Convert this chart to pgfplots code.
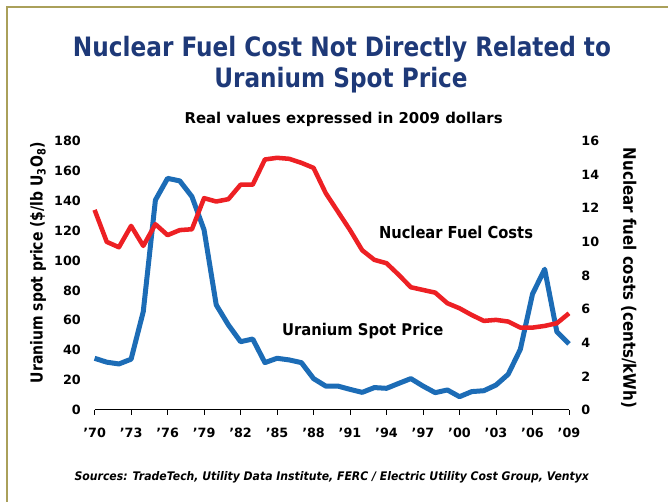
\documentclass[border=0pt]{standalone}
\usepackage{fontspec}
\setmainfont{DejaVu Sans}
\usepackage{pgfplots}
\pgfplotsset{compat=1.18}
\definecolor{titlenavy}{RGB}{30,57,120}
\definecolor{ublue}{RGB}{28,108,182}
\definecolor{fred}{RGB}{237,32,36}
\definecolor{frame}{RGB}{170,160,90}

% values
\pgfplotstableread{
year spot
1970 34.6
1971 32.0
1972 30.8
1973 34.0
1974 65.8
1975 140.5
1976 155.0
1977 153.3
1978 142.8
1979 120.5
1980 70.3
1981 56.9
1982 45.7
1983 47.5
1984 31.7
1985 34.6
1986 33.5
1987 31.7
1988 21.0
1989 16.0
1990 16.0
1991 13.8
1992 11.8
1993 15.0
1994 14.5
1995 17.8
1996 21.0
1997 16.0
1998 11.6
1999 13.4
2000 8.9
2001 12.3
2002 12.9
2003 16.7
2004 23.9
2005 40.6
2006 77.6
2007 94.2
2008 52.4
2009 44.2
}\spottable

\pgfplotstableread{
year fuel
1970 11.9
1971 10.0
1972 9.68
1973 10.95
1974 9.76
1975 11.05
1976 10.4
1977 10.7
1978 10.75
1979 12.6
1980 12.4
1981 12.54
1982 13.4
1983 13.4
1984 14.9
1985 15.0
1986 14.94
1987 14.7
1988 14.4
1989 12.9
1990 11.8
1991 10.7
1992 9.5
1993 8.93
1994 8.73
1995 8.04
1996 7.3
1997 7.14
1998 6.98
1999 6.35
2000 6.05
2001 5.65
2002 5.3
2003 5.36
2004 5.26
2005 4.9
2006 4.9
2007 5.0
2008 5.16
2009 5.75
}\fueltable

\pgfplotsset{
  common/.style={
    at={(70.95pt,69pt)}, anchor=south west,
    scale only axis, width=355.8pt, height=201.75pt,
    xmin=1970, xmax=2009, clip=false,
    ticklabel style={font=\bfseries\fontsize{9.57}{11}\selectfont},
    /pgf/number format/assume math mode=true,
    y axis line style={draw=none},
    ytick style={draw=none},
  },
}

\begin{document}
\begin{tikzpicture}
\useasboundingbox (0,0) rectangle (501pt,376.5pt);

\begin{axis}[common,
  ymin=0, ymax=180, ytick={0,20,...,180},
  axis x line*=bottom, axis y line*=left,
  x axis line style={black, line width=0.75pt},
  xtick={1970,1973,...,2009},
  xticklabels={'70,'73,'76,'79,'82,'85,'88,'91,'94,'97,'00,'03,'06,'09},
  xtick style={black, line width=0.75pt},
  tick align=outside, major tick length=3.5pt,
  xticklabel style={anchor=north, yshift=-6.4pt},
  yticklabel style={anchor=east, xshift=-3.3pt},
]
\addplot[ublue, line width=3.75pt, line join=round] table[x=year, y=spot] {\spottable};
\end{axis}

\begin{axis}[common,
  ymin=0, ymax=16, ytick={0,2,...,16},
  axis y line*=right, hide x axis,
  yticklabel style={anchor=west, xshift=5.8pt},
]
\addplot[fred, line width=3.4pt, line join=round] table[x=year, y=fuel] {\fueltable};
\end{axis}

\begin{scope}[x=0.75pt, y=-0.75pt, yshift=376.5pt]
  \draw[frame, line width=1.5pt] (6.8,505) -- (6.8,6.8) -- (670,6.8);
  \node[anchor=base, inner sep=0, text=titlenavy] at (342,57)
    {\resizebox{403.5pt}{15.2pt}{\bfseries Nuclear Fuel Cost Not Directly Related to}};
  \node[anchor=base, inner sep=0, text=titlenavy] at (341,87.3)
    {\resizebox{190pt}{15.2pt}{\bfseries Uranium Spot Price}};
  \node[anchor=base, inner sep=0] at (343.6,124)
    {\resizebox{238.6pt}{8.5pt}{\bfseries Real values expressed in 2009 dollars}};
  \node[anchor=base, inner sep=0] at (331.8,480.7)
    {\resizebox{385.8pt}{6.75pt}{\bfseries\itshape Sources: TradeTech, Utility Data Institute, FERC / Electric Utility Cost Group, Ventyx}};
  \node[anchor=base, inner sep=0, rotate=90] at (42.7,262.5)
    {\resizebox{180.75pt}{9.4pt}{\bfseries Uranium spot price (\$/lb U\textsubscript{3}O\textsubscript{8})}};
  \node[anchor=base, inner sep=0, rotate=-90] at (623.3,278)
    {\resizebox{195pt}{9.8pt}{\bfseries Nuclear fuel costs (cents/kWh)}};
  \node[anchor=base, inner sep=0] at (456,239)
    {\resizebox{115.5pt}{9.4pt}{\bfseries Nuclear Fuel Costs}};
  \node[anchor=base, inner sep=0] at (362.7,335.5)
    {\resizebox{121pt}{9.2pt}{\bfseries Uranium Spot Price}};
\end{scope}
\end{tikzpicture}
\end{document}
